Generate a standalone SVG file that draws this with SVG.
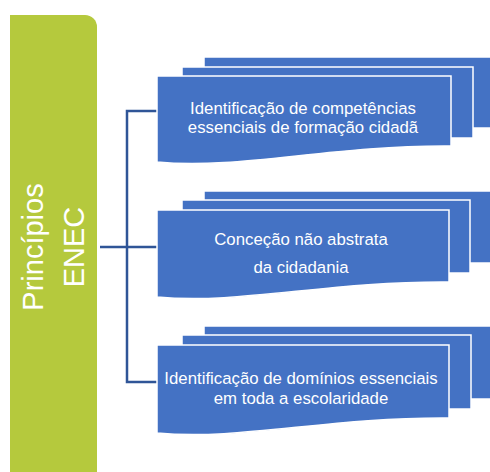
<svg xmlns="http://www.w3.org/2000/svg" width="490" height="472" viewBox="0 0 490 472">
<style>
.layer{fill:#4472C4;stroke:#FFFFFF;stroke-width:1.5}
.conn{fill:none;stroke:#2F5597;stroke-width:2.5}
.nt{font-family:"Liberation Sans",Arial,sans-serif;font-size:16.8px;fill:#FFFFFF;text-anchor:middle}
.gt{font-family:"Liberation Sans",Arial,sans-serif;font-size:29px;fill:#FFFFFF;text-anchor:middle}
</style>
<rect width="490" height="472" fill="#FFFFFF"/>
<g id="principios">
<path d="M10,15 H85 A12,12 0 0 1 97,27 V476 H10 Z" fill="#B5C93D"/>
<text class="gt" transform="translate(43,247) rotate(-90)">Princípios</text>
<text class="gt" x="0" y="0" transform="translate(84,247) rotate(-90)" font-size="27px">ENEC</text>
</g>
<g id="connectors">
<path class="conn" d="M100,247 H127 M157,111 H127 V382 H157 M127,247 H157"/>
</g>
<g id="node1">
<rect class="layer" x="204" y="57" width="300" height="71"/>
<rect class="layer" x="182" y="67" width="291" height="71"/>
<path class="layer" d="M157,76 H451 V146 C330,145 240,170 157,162 Z"/>
<text class="nt" x="303" y="114">Identificação de competências</text>
<text class="nt" x="303" y="133">essenciais de formação cidadã</text>
</g>
<g id="node2">
<rect class="layer" x="204" y="191" width="300" height="72"/>
<rect class="layer" x="182" y="200" width="288" height="73"/>
<path class="layer" d="M157,210 H449 V282 C328,281 240,305 157,297 Z"/>
<text class="nt" x="301" y="245">Conceção não abstrata</text>
<text class="nt" x="301" y="273">da cidadania</text>
</g>
<g id="node3">
<rect class="layer" x="204" y="326" width="300" height="73"/>
<rect class="layer" x="182" y="335" width="289" height="74"/>
<path class="layer" d="M157,345 H449 V418 C328,417 240,441 157,433 Z"/>
<text class="nt" x="301" y="384">Identificação de domínios essenciais</text>
<text class="nt" x="301" y="404">em toda a escolaridade</text>
</g>
</svg>
